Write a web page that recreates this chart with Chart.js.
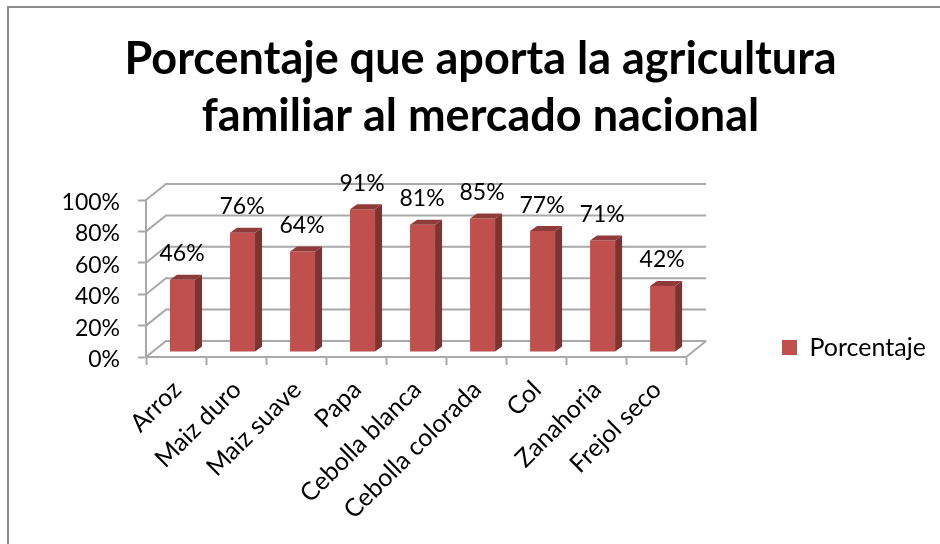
<!DOCTYPE html>
<html>
<head>
<meta charset="utf-8">
<style>
  html, body { margin: 0; padding: 0; background: #fff; overflow: hidden; }
  canvas { display: block; filter: blur(0.4px); }
</style>
<script src="https://cdn.jsdelivr.net/npm/chart.js@4"></script>
</head>
<body>
<canvas id="grafico" width="940" height="544"></canvas>
<script>
const categorias = ['Arroz', 'Maiz duro', 'Maiz suave', 'Papa', 'Cebolla blanca', 'Cebolla colorada', 'Col', 'Zanahoria', 'Frejol seco'];
const porcentajes = [46, 76, 64, 91, 81, 85, 77, 71, 42];
const titulo = ['Porcentaje que aporta la agricultura', 'familiar al mercado nacional'];

const fuente = 'Lato, Carlito, sans-serif';
const gris = '#a9a9a9';

// fondo falso 3D: profundidad de la pared y de las barras
const fondoX = 20, fondoY = -16;
const barraDx = 6.5, barraDy = -5, ladoX = 7, ladoY = -5;

const marco = {
  id: 'marco',
  beforeDraw(chart) {
    const ctx = chart.ctx;
    ctx.save();
    ctx.fillStyle = '#fff';
    ctx.fillRect(0, 0, chart.width, chart.height);
    ctx.strokeStyle = '#8c8c8c';
    ctx.lineWidth = 2;
    ctx.strokeRect(8, 7, 990, 600);
    ctx.restore();
  }
};

const pared = {
  id: 'pared',
  afterLayout(chart) {
    // la leyenda va a la altura del piso, no centrada
    const l = chart.legend;
    const w = l.width, h = l.height;
    l.left = 772; l.right = 772 + w + 10;
    l.top = 325; l.bottom = 325 + h;
    // el titulo se centra en todo el marco
    chart.titleBlock.left = 21;
    chart.titleBlock.right = 940;
  },
  beforeDatasetsDraw(chart) {
    const { ctx, chartArea: a, scales: { y } } = chart;
    ctx.save();
    ctx.strokeStyle = gris;
    ctx.lineWidth = 2;
    y.ticks.forEach(t => {
      const py = y.getPixelForValue(t.value);
      ctx.beginPath();
      ctx.moveTo(a.left, py);
      ctx.lineTo(a.left + fondoX, py + fondoY);
      ctx.lineTo(a.right + fondoX, py + fondoY);
      ctx.stroke();
    });
    // borde derecho del piso
    const y0 = y.getPixelForValue(0);
    ctx.beginPath();
    ctx.moveTo(a.right, y0);
    ctx.lineTo(a.right + fondoX, y0 + fondoY);
    ctx.stroke();
    ctx.restore();
  },
  beforeDatasetDraw(chart) {
    chart.ctx.save();
    chart.ctx.translate(barraDx, barraDy);
  },
  afterDatasetDraw(chart, args) {
    const ctx = chart.ctx;
    args.meta.data.forEach(b => {
      const der = b.x + b.width / 2, izq = b.x - b.width / 2;
      ctx.fillStyle = '#7e3331';
      ctx.beginPath();
      ctx.moveTo(der, b.y);
      ctx.lineTo(der + ladoX, b.y + ladoY);
      ctx.lineTo(der + ladoX, b.base + ladoY);
      ctx.lineTo(der, b.base);
      ctx.closePath();
      ctx.fill();
      ctx.fillStyle = '#8f3b39';
      ctx.beginPath();
      ctx.moveTo(izq, b.y);
      ctx.lineTo(izq + ladoX, b.y + ladoY);
      ctx.lineTo(der + ladoX, b.y + ladoY);
      ctx.lineTo(der, b.y);
      ctx.closePath();
      ctx.fill();
    });
    ctx.restore();
  },
  afterDatasetsDraw(chart) {
    const ctx = chart.ctx;
    const meta = chart.getDatasetMeta(0);
    ctx.save();
    ctx.fillStyle = '#000';
    ctx.font = '23px ' + fuente;
    ctx.textAlign = 'center';
    ctx.textBaseline = 'middle';
    meta.data.forEach((b, i) => {
      ctx.fillText(porcentajes[i] + '%', b.x + barraDx - 0.5, b.y + barraDy - 26);
    });
    ctx.restore();
  }
};

new Chart(document.getElementById('grafico').getContext('2d'), {
  type: 'bar',
  data: {
    labels: categorias,
    datasets: [{
      label: 'Porcentaje',
      data: porcentajes,
      backgroundColor: '#c0504d',
      borderWidth: 0,
      categoryPercentage: 1,
      barPercentage: 25 / 60
    }]
  },
  options: {
    responsive: false,
    animation: false,
    layout: { padding: { left: 21, right: 90, top: 0, bottom: 0 } },
    plugins: {
      title: {
        display: true,
        text: titulo,
        color: '#000',
        font: { family: fuente, size: 45, weight: 'bold', lineHeight: 57 / 45 },
        padding: { top: 31, bottom: 55 }
      },
      legend: {
        position: 'right',
        align: 'start',
        labels: {
          color: '#000',
          boxWidth: 15,
          boxHeight: 15,
          font: { family: fuente, size: 25 }
        }
      },
      tooltip: { enabled: false }
    },
    scales: {
      x: {
        afterFit(s) { s.height = 187; },
        border: { color: gris, width: 2 },
        grid: { drawOnChartArea: false, drawTicks: true, tickLength: 8, tickWidth: 2, tickColor: gris },
        ticks: {
          color: '#000',
          font: { family: fuente, size: 25 },
          autoSkip: false,
          minRotation: 45,
          maxRotation: 45,
          padding: 10,
          labelOffset: 1
        }
      },
      y: {
        min: 0,
        max: 100,
        afterFit(s) { s.width = 125; },
        border: { color: gris, width: 2 },
        grid: { drawOnChartArea: false, drawTicks: true, tickLength: 8, tickWidth: 2, tickColor: gris },
        ticks: {
          stepSize: 20,
          color: '#000',
          padding: 18,
          labelOffset: 2.5,
          font: { family: fuente, size: 23 },
          callback: v => v + '%'
        }
      }
    }
  },
  plugins: [marco, pared]
});
</script>
</body>
</html>
